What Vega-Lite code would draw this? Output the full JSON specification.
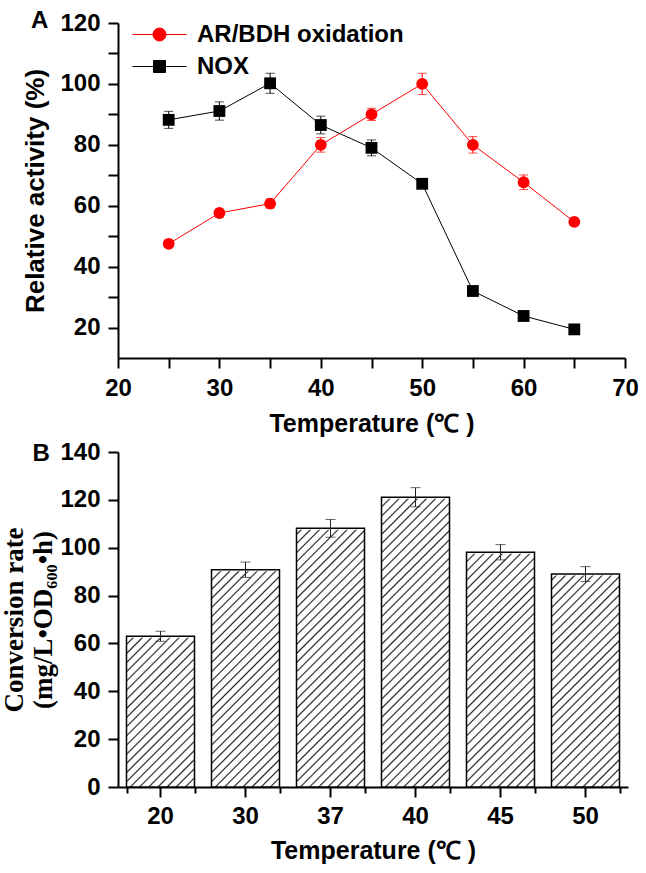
{
  "$schema": "https://vega.github.io/schema/vega-lite/v6.json",
  "background": "white",
  "autosize": {"type": "pad"},
  "padding": {"left": 0, "top": 9, "right": 5, "bottom": 2},
  "spacing": 4,
  "config": {
    "view": {"stroke": null},
    "font": "Liberation Sans",
    "axis": {
      "grid": false,
      "domainColor": "#000",
      "domainWidth": 2,
      "tickColor": "#000",
      "tickWidth": 2,
      "tickSize": 10,
      "labelFont": "Liberation Sans",
      "labelFontWeight": "bold",
      "labelFontSize": 24,
      "labelColor": "#000",
      "titleFont": "Liberation Sans",
      "titleFontWeight": "bold",
      "titleFontSize": 25,
      "titleColor": "#000"
    }
  },
  "vconcat": [
    {
      "width": 507,
      "height": 335,
      "data": {"values": [
        {"series": "AR/BDH oxidation", "temp": 25, "act": 47.5, "err": 1.0},
        {"series": "AR/BDH oxidation", "temp": 30, "act": 57.6, "err": 1.2},
        {"series": "AR/BDH oxidation", "temp": 35, "act": 60.7, "err": 1.5},
        {"series": "AR/BDH oxidation", "temp": 40, "act": 80.0, "err": 2.4},
        {"series": "AR/BDH oxidation", "temp": 45, "act": 90.0, "err": 2.0},
        {"series": "AR/BDH oxidation", "temp": 50, "act": 100.0, "err": 3.5},
        {"series": "AR/BDH oxidation", "temp": 55, "act": 80.0, "err": 2.7},
        {"series": "AR/BDH oxidation", "temp": 60, "act": 67.7, "err": 2.4},
        {"series": "AR/BDH oxidation", "temp": 65, "act": 54.7, "err": 1.2},
        {"series": "NOX", "temp": 25, "act": 88.2, "err": 2.8},
        {"series": "NOX", "temp": 30, "act": 91.1, "err": 3.0},
        {"series": "NOX", "temp": 35, "act": 100.2, "err": 3.3},
        {"series": "NOX", "temp": 40, "act": 86.5, "err": 2.9},
        {"series": "NOX", "temp": 45, "act": 79.0, "err": 2.6},
        {"series": "NOX", "temp": 50, "act": 67.2, "err": 1.5},
        {"series": "NOX", "temp": 55, "act": 32.0, "err": 1.2},
        {"series": "NOX", "temp": 60, "act": 23.8, "err": 1.0},
        {"series": "NOX", "temp": 65, "act": 19.4, "err": 1.0}
      ]},
      "encoding": {
        "x": {
          "field": "temp", "type": "quantitative",
          "scale": {"domain": [20, 70], "nice": false, "zero": false},
          "axis": {
            "values": [20, 25, 30, 35, 40, 45, 50, 55, 60, 65, 70],
            "labelExpr": "datum.value % 10 === 0 ? datum.label : ''",
            "labelFlush": false,
            "labelPadding": 8,
            "titlePadding": 11,
            "title": "Temperature (℃ )",
            "encode": {"ticks": {"update": {"y2": {"signal": "datum.value % 10 === 0 ? 10 : 5"}}}}
          },
          "title": "Temperature (℃ )"
        },
        "y": {
          "field": "act", "type": "quantitative",
          "scale": {"domain": [10, 120], "nice": false, "zero": false},
          "axis": {
            "values": [20, 30, 40, 50, 60, 70, 80, 90, 100, 110, 120],
            "labelExpr": "datum.value % 20 === 0 ? datum.label : ''",
            "labelPadding": 8,
            "titlePadding": 11,
            "titleFontSize": 26,
            "title": "Relative activity (%)",
            "encode": {"ticks": {"update": {"x2": {"signal": "datum.value % 20 === 0 ? -10 : -5"}}}}
          },
          "title": "Relative activity (%)"
        }
      },
      "layer": [
        {
          "mark": {"type": "line", "strokeWidth": 1},
          "encoding": {
            "color": {
              "field": "series", "type": "nominal",
              "scale": {"domain": ["AR/BDH oxidation", "NOX"], "range": ["#ff0000", "#000000"]},
              "legend": {
                "title": null,
                "orient": "none",
                "legendX": 26,
                "legendY": -4,
                "padding": 0,
                "symbolSize": 900,
                "symbolStrokeWidth": 1,
                "labelFont": "Liberation Sans",
                "labelFontSize": 24,
                "labelFontWeight": "bold",
                "labelColor": "#000",
                "labelLimit": 400,
                "labelOffset": 22,
                "rowPadding": 4,
                "encode": {
                  "symbols": {
                    "update": {
                      "shape": {"signal": "datum.value === 'NOX' ? 'M-1.8,0L1.8,0M-0.4,-0.4L0.4,-0.4L0.4,0.4L-0.4,0.4Z' : 'M-1.8,0L1.8,0M-0.43,0A0.43,0.43,0,1,1,0.43,0A0.43,0.43,0,1,1,-0.43,0Z'"},
                      "fill": {"signal": "datum.value === 'NOX' ? '#000000' : '#ff0000'"},
                      "stroke": {"signal": "datum.value === 'NOX' ? '#000000' : '#ff0000'"},
                      "opacity": {"value": 1},
                      "fillOpacity": {"value": 1}
                    }
                  }
                }
              }
            }
          }
        },
        {
          "mark": {"type": "errorbar", "ticks": {"size": 9}, "thickness": 1},
          "encoding": {
            "yError": {"field": "err"},
            "color": {"field": "series", "type": "nominal"}
          }
        },
        {
          "transform": [{"filter": "datum.series === 'AR/BDH oxidation'"}],
          "mark": {"type": "circle", "size": 140, "opacity": 1},
          "encoding": {"color": {"field": "series", "type": "nominal"}}
        },
        {
          "transform": [{"filter": "datum.series === 'NOX'"}],
          "mark": {"type": "square", "size": 140, "opacity": 1},
          "encoding": {"color": {"field": "series", "type": "nominal"}}
        },
        {
          "transform": [{"filter": "datum.series === 'NOX' && datum.temp === 25"}],
          "mark": {"type": "text", "text": "A", "align": "left", "baseline": "alphabetic", "dx": -87, "dy": 5, "font": "Liberation Sans", "fontSize": 24, "fontWeight": "bold", "color": "#000", "opacity": 1},
          "encoding": {
            "x": {"datum": 20, "type": "quantitative", "title": "Temperature (℃ )"},
            "y": {"datum": 120, "type": "quantitative", "title": "Relative activity (%)"}
          }
        }
      ]
    },
    {
      "width": 510,
      "height": 335,
      "data": {"values": [
        {"temp": 20, "rate": 63.0, "err": 2.1},
        {"temp": 30, "rate": 90.8, "err": 3.2},
        {"temp": 37, "rate": 108.1, "err": 3.7},
        {"temp": 40, "rate": 121.1, "err": 4.0},
        {"temp": 45, "rate": 98.1, "err": 3.2},
        {"temp": 50, "rate": 89.0, "err": 3.1}
      ]},
      "layer": [
        {
          "encoding": {
            "x": {
              "field": "temp", "type": "ordinal",
              "scale": {"paddingInner": 0.2, "paddingOuter": 0.1},
              "axis": {
                "labelAngle": 0,
                "labelPadding": 7,
                "titlePadding": 10,
                "title": "Temperature (℃ )"
              },
              "title": "Temperature (℃ )"
            }
          },
          "layer": [
            {
              "mark": {
                "type": "bar",
                "stroke": null,
                "fill": {
                  "gradient": "linear", "x1": 0, "y1": 0, "x2": 0.2345, "y2": 1.1554,
                  "stops": [
                    {"offset": 0, "color": "#222"}, {"offset": 0.004, "color": "#fff"}, {"offset": 0.0187, "color": "#fff"},
                    {"offset": 0.0227, "color": "#222"}, {"offset": 0.0267, "color": "#fff"}, {"offset": 0.0415, "color": "#fff"},
                    {"offset": 0.0455, "color": "#222"}, {"offset": 0.0495, "color": "#fff"}, {"offset": 0.0642, "color": "#fff"},
                    {"offset": 0.0682, "color": "#222"}, {"offset": 0.0722, "color": "#fff"}, {"offset": 0.0869, "color": "#fff"},
                    {"offset": 0.0909, "color": "#222"}, {"offset": 0.0949, "color": "#fff"}, {"offset": 0.1096, "color": "#fff"},
                    {"offset": 0.1136, "color": "#222"}, {"offset": 0.1176, "color": "#fff"}, {"offset": 0.1324, "color": "#fff"},
                    {"offset": 0.1364, "color": "#222"}, {"offset": 0.1404, "color": "#fff"}, {"offset": 0.1551, "color": "#fff"},
                    {"offset": 0.1591, "color": "#222"}, {"offset": 0.1631, "color": "#fff"}, {"offset": 0.1778, "color": "#fff"},
                    {"offset": 0.1818, "color": "#222"}, {"offset": 0.1858, "color": "#fff"}, {"offset": 0.2005, "color": "#fff"},
                    {"offset": 0.2045, "color": "#222"}, {"offset": 0.2085, "color": "#fff"}, {"offset": 0.2233, "color": "#fff"},
                    {"offset": 0.2273, "color": "#222"}, {"offset": 0.2313, "color": "#fff"}, {"offset": 0.2460, "color": "#fff"},
                    {"offset": 0.25, "color": "#222"}, {"offset": 0.254, "color": "#fff"}, {"offset": 0.2687, "color": "#fff"},
                    {"offset": 0.2727, "color": "#222"}, {"offset": 0.2767, "color": "#fff"}, {"offset": 0.2915, "color": "#fff"},
                    {"offset": 0.2955, "color": "#222"}, {"offset": 0.2995, "color": "#fff"}, {"offset": 0.3142, "color": "#fff"},
                    {"offset": 0.3182, "color": "#222"}, {"offset": 0.3222, "color": "#fff"}, {"offset": 0.3369, "color": "#fff"},
                    {"offset": 0.3409, "color": "#222"}, {"offset": 0.3449, "color": "#fff"}, {"offset": 0.3596, "color": "#fff"},
                    {"offset": 0.3636, "color": "#222"}, {"offset": 0.3676, "color": "#fff"}, {"offset": 0.3824, "color": "#fff"},
                    {"offset": 0.3864, "color": "#222"}, {"offset": 0.3904, "color": "#fff"}, {"offset": 0.4051, "color": "#fff"},
                    {"offset": 0.4091, "color": "#222"}, {"offset": 0.4131, "color": "#fff"}, {"offset": 0.4278, "color": "#fff"},
                    {"offset": 0.4318, "color": "#222"}, {"offset": 0.4358, "color": "#fff"}, {"offset": 0.4505, "color": "#fff"},
                    {"offset": 0.4545, "color": "#222"}, {"offset": 0.4585, "color": "#fff"}, {"offset": 0.4733, "color": "#fff"},
                    {"offset": 0.4773, "color": "#222"}, {"offset": 0.4813, "color": "#fff"}, {"offset": 0.4960, "color": "#fff"},
                    {"offset": 0.5, "color": "#222"}, {"offset": 0.504, "color": "#fff"}, {"offset": 0.5187, "color": "#fff"},
                    {"offset": 0.5227, "color": "#222"}, {"offset": 0.5267, "color": "#fff"}, {"offset": 0.5415, "color": "#fff"},
                    {"offset": 0.5455, "color": "#222"}, {"offset": 0.5495, "color": "#fff"}, {"offset": 0.5642, "color": "#fff"},
                    {"offset": 0.5682, "color": "#222"}, {"offset": 0.5722, "color": "#fff"}, {"offset": 0.5869, "color": "#fff"},
                    {"offset": 0.5909, "color": "#222"}, {"offset": 0.5949, "color": "#fff"}, {"offset": 0.6096, "color": "#fff"},
                    {"offset": 0.6136, "color": "#222"}, {"offset": 0.6176, "color": "#fff"}, {"offset": 0.6324, "color": "#fff"},
                    {"offset": 0.6364, "color": "#222"}, {"offset": 0.6404, "color": "#fff"}, {"offset": 0.6551, "color": "#fff"},
                    {"offset": 0.6591, "color": "#222"}, {"offset": 0.6631, "color": "#fff"}, {"offset": 0.6778, "color": "#fff"},
                    {"offset": 0.6818, "color": "#222"}, {"offset": 0.6858, "color": "#fff"}, {"offset": 0.7005, "color": "#fff"},
                    {"offset": 0.7045, "color": "#222"}, {"offset": 0.7085, "color": "#fff"}, {"offset": 0.7233, "color": "#fff"},
                    {"offset": 0.7273, "color": "#222"}, {"offset": 0.7313, "color": "#fff"}, {"offset": 0.7460, "color": "#fff"},
                    {"offset": 0.75, "color": "#222"}, {"offset": 0.754, "color": "#fff"}, {"offset": 0.7687, "color": "#fff"},
                    {"offset": 0.7727, "color": "#222"}, {"offset": 0.7767, "color": "#fff"}, {"offset": 0.7915, "color": "#fff"},
                    {"offset": 0.7955, "color": "#222"}, {"offset": 0.7995, "color": "#fff"}, {"offset": 0.8142, "color": "#fff"},
                    {"offset": 0.8182, "color": "#222"}, {"offset": 0.8222, "color": "#fff"}, {"offset": 0.8369, "color": "#fff"},
                    {"offset": 0.8409, "color": "#222"}, {"offset": 0.8449, "color": "#fff"}, {"offset": 0.8596, "color": "#fff"},
                    {"offset": 0.8636, "color": "#222"}, {"offset": 0.8676, "color": "#fff"}, {"offset": 0.8824, "color": "#fff"},
                    {"offset": 0.8864, "color": "#222"}, {"offset": 0.8904, "color": "#fff"}, {"offset": 0.9051, "color": "#fff"},
                    {"offset": 0.9091, "color": "#222"}, {"offset": 0.9131, "color": "#fff"}, {"offset": 0.9278, "color": "#fff"},
                    {"offset": 0.9318, "color": "#222"}, {"offset": 0.9358, "color": "#fff"}, {"offset": 0.9505, "color": "#fff"},
                    {"offset": 0.9545, "color": "#222"}, {"offset": 0.9585, "color": "#fff"}, {"offset": 0.9733, "color": "#fff"},
                    {"offset": 0.9773, "color": "#222"}, {"offset": 0.9813, "color": "#fff"}, {"offset": 0.9960, "color": "#fff"},
                    {"offset": 1, "color": "#222"}
                  ]
                }
              },
              "encoding": {
                "y": {
                  "datum": 140, "type": "quantitative",
                  "scale": {"domain": [0, 140], "nice": false},
                  "axis": {
                    "values": [0, 10, 20, 30, 40, 50, 60, 70, 80, 90, 100, 110, 120, 130, 140],
                    "labelExpr": "datum.value % 20 === 0 ? datum.label : ''",
                    "labelPadding": 8,
                    "titlePadding": 2,
                    "titleFont": "Liberation Serif",
                    "titleFontSize": 27,
                    "titleLineHeight": 29,
                    "title": ["Conversion rate", "(mg/L•OD₆₀₀•h)"],
                    "encode": {"ticks": {"update": {"x2": {"signal": "datum.value % 20 === 0 ? -10 : -5"}}}}
                  },
                  "title": ["Conversion rate", "(mg/L•OD₆₀₀•h)"]
                },
                "y2": {"datum": 0}
              }
            },
            {
              "mark": {"type": "bar", "fill": "#ffffff", "stroke": "#ffffff", "strokeWidth": 3},
              "encoding": {
                "y": {"field": "rate", "type": "quantitative", "title": ["Conversion rate", "(mg/L•OD₆₀₀•h)"]},
                "y2": {"datum": 140}
              }
            },
            {
              "mark": {"type": "bar", "fill": "transparent", "stroke": "#000", "strokeWidth": 1.5},
              "encoding": {
                "y": {"field": "rate", "type": "quantitative", "title": ["Conversion rate", "(mg/L•OD₆₀₀•h)"]}
              }
            },
            {
              "mark": {"type": "errorbar", "ticks": {"size": 10}, "thickness": 1, "color": "#222"},
              "encoding": {
                "y": {"field": "rate", "type": "quantitative", "title": ["Conversion rate", "(mg/L•OD₆₀₀•h)"]},
                "yError": {"field": "err"}
              }
            },
            {
              "data": {"values": [{"panel": "B"}]},
              "mark": {"type": "text", "align": "left", "baseline": "alphabetic", "dx": -128, "dy": 9, "font": "Liberation Sans", "fontSize": 24, "fontWeight": "bold", "color": "#000"},
              "encoding": {
                "x": {"datum": 20, "type": "ordinal", "title": "Temperature (℃ )"},
                "y": {"datum": 140, "type": "quantitative", "title": ["Conversion rate", "(mg/L•OD₆₀₀•h)"]},
                "text": {"field": "panel", "type": "nominal"}
              }
            }
          ]
        },
        {
          "mark": {"type": "bar", "opacity": 0},
          "encoding": {
            "x": {
              "field": "temp", "type": "ordinal",
              "scale": {"paddingInner": 0.2, "paddingOuter": 0.1},
              "axis": {"orient": "bottom", "tickBand": "extent", "labels": false, "domain": false, "tickSize": 6, "title": null}
            }
          }
        }
      ],
      "resolve": {"scale": {"x": "independent"}}
    }
  ]
}
